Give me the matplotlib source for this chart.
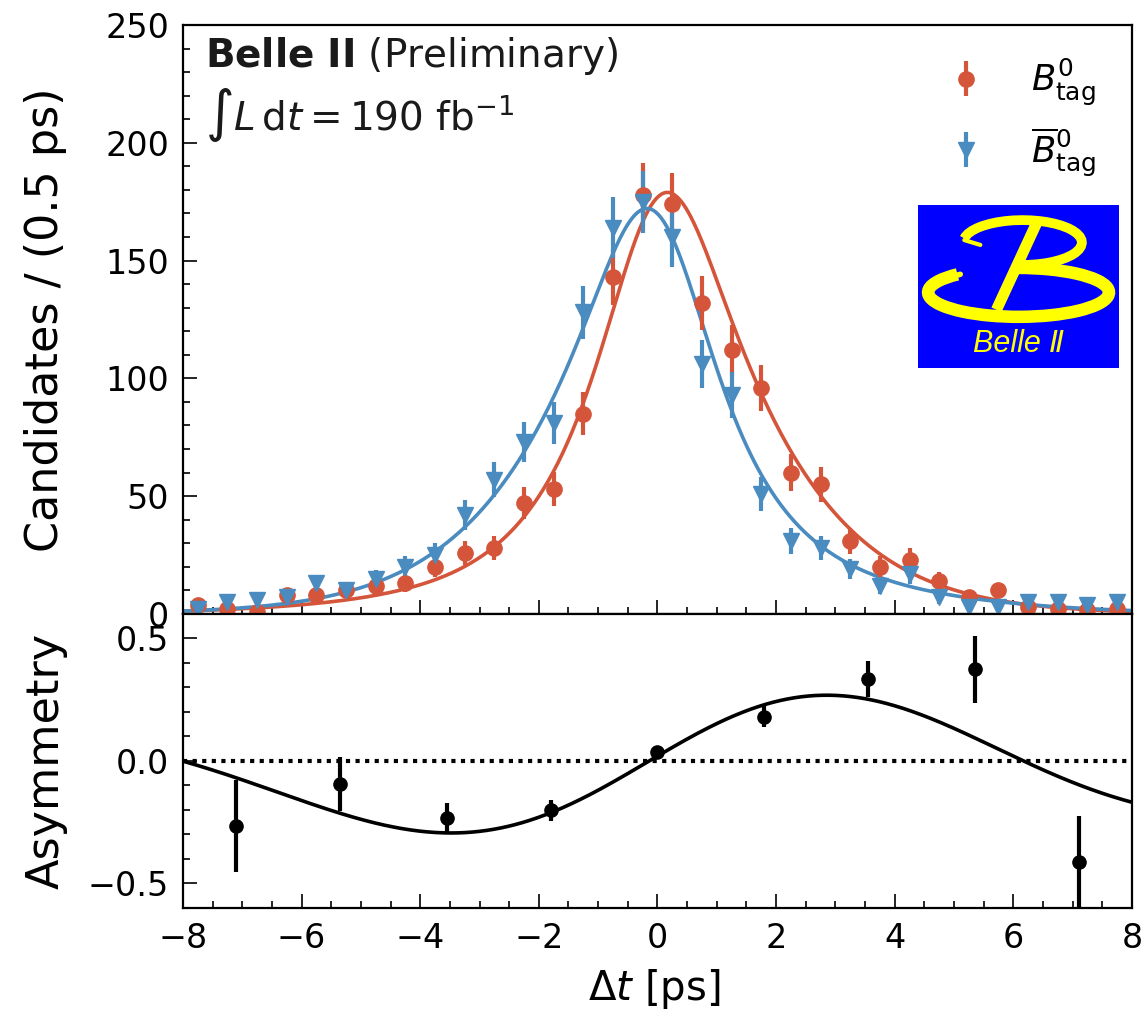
import math
import numpy as np
import matplotlib
matplotlib.use('Agg')
import matplotlib.pyplot as plt
from matplotlib.patches import Arc
from matplotlib.ticker import MultipleLocator

# binned delta-t distribution, 0.5 ps bins from -8 to 8 ps
dt_edges = np.linspace(-8, 8, 33)
b0_counts = [4, 2, 1, 8, 8, 10, 12, 13, 20, 26, 28, 47, 53, 85, 143, 178,
             174, 132, 112, 96, 60, 55, 31, 20, 23, 14, 7, 10, 3, 2, 1.5, 2]
b0bar_counts = [2, 5, 6, 7, 13, 10, 15, 20, 25, 42, 57, 73, 81, 128, 164, 175,
                160, 106, 93, 51, 31, 28, 19, 12, 17, 7, 3, 3, 5, 5, 4, 5]

# asymmetry in coarse bins
asym_dt = [-7.1, -5.35, -3.55, -1.8, 0.0, 1.8, 3.55, 5.35, 7.1]
asym_val = [-0.265, -0.094, -0.234, -0.202, 0.035, 0.180, 0.334, 0.374, -0.413]
asym_err = [0.187, 0.112, 0.063, 0.043, 0.02, 0.043, 0.073, 0.138, 0.19]

# fit model parameters
tau = 1.52      # ps
sigma = 0.55    # resolution, ps
amp0, amp1 = 0.28, -0.004
phase_coef = [0.5095, 0.0052, -0.00112]
t_shift = 0.14

red = '#d4553a'
blue = '#4a8bc0'


def decay_conv(t):
    # exp(-|t|/tau)/(2 tau) convolved with a gaussian of width sigma
    s = sigma / tau
    erfc = np.vectorize(math.erfc)
    a = np.exp(-t / tau) * erfc((s - t / sigma) / np.sqrt(2))
    b = np.exp(t / tau) * erfc((s + t / sigma) / np.sqrt(2))
    return np.exp(s ** 2 / 2) / (4 * tau) * (a + b)


def asym_model(t):
    u = t + t_shift
    phase = phase_coef[0] * u + phase_coef[1] * u ** 2 + phase_coef[2] * u ** 3
    return (amp0 + amp1 * t) * np.sin(phase)


centers = 0.5 * (dt_edges[1:] + dt_edges[:-1])
width = dt_edges[1] - dt_edges[0]
b0 = np.array(b0_counts)
b0bar = np.array(b0bar_counts)
n_total = b0.sum() + b0bar.sum()

tt = np.linspace(-8, 8, 801)
total = n_total * width * decay_conv(tt)
asym = asym_model(tt)

fig = plt.figure(figsize=(11.42, 10.16), dpi=100)
ax1 = fig.add_axes([0.1602, 0.3957, 0.831, 0.5797])
ax2 = fig.add_axes([0.1602, 0.1063, 0.831, 0.2894], sharex=ax1)

ax1.plot(tt, total * (1 + asym) / 2, color=red, lw=2.6, zorder=2)
ax1.plot(tt, total * (1 - asym) / 2, color=blue, lw=2.6, zorder=2)
ax1.errorbar(centers, b0, yerr=np.sqrt(b0), fmt='o', color=red, ms=11,
             elinewidth=3, capsize=0, label=r'$B^0_{\rm tag}$', zorder=3)
ax1.errorbar(centers, b0bar, yerr=np.sqrt(b0bar), fmt='v', color=blue, ms=11,
             elinewidth=3, capsize=0, label=r'$\overline{B}^0_{\rm tag}$', zorder=3)

ax1.set_xlim(-8, 8)
ax1.set_ylim(0, 250)
ax1.yaxis.set_major_locator(MultipleLocator(50))
ax1.yaxis.set_minor_locator(MultipleLocator(10))
ax1.xaxis.set_major_locator(MultipleLocator(2))
ax1.xaxis.set_minor_locator(MultipleLocator(0.5))
ax1.tick_params(labelbottom=False)
ax1.set_ylabel('Candidates / (0.5 ps)', fontsize=32)
ax1.yaxis.set_label_coords(-0.122, 0.5)

ax1.text(0.023, 0.929, r'$\bf{Belle\ II}$' + ' (Preliminary)', transform=ax1.transAxes,
         fontsize=28, va='baseline', ha='left', color='#1a1a1a')
ax1.text(0.023, 0.822, r'$\int L\,\mathrm{d}t = 190$ fb$^{-1}$', transform=ax1.transAxes,
         fontsize=28, va='baseline', ha='left', color='#1a1a1a')

leg = ax1.legend(loc='upper right', bbox_to_anchor=(0.996, 1.0), frameon=False,
                 fontsize=25.5, handletextpad=1.1, labelspacing=0.48, handlelength=1.5)

# Belle II logo
logo = fig.add_axes([0.8039, 0.6378, 0.176, 0.1604])
logo.set_facecolor('#0000ff')
logo.set_xlim(0, 1)
logo.set_ylim(0, 1)
logo.set_xticks([])
logo.set_yticks([])
for sp in logo.spines.values():
    sp.set_visible(False)
yellow = '#ffff00'
logo.add_patch(Arc((0.52, 0.77), 0.59, 0.275, theta1=-105, theta2=175, color=yellow, lw=7))
logo.add_patch(Arc((0.50, 0.464), 0.90, 0.30, theta1=160, theta2=450, color=yellow, lw=9))
logo.plot([0.59, 0.39], [0.89, 0.357], color=yellow, lw=8, solid_capstyle='butt')
logo.plot([0.23, 0.31], [0.785, 0.755], color=yellow, lw=3, solid_capstyle='round')
logo.plot([0.08, 0.21], [0.53, 0.575], color=yellow, lw=4, solid_capstyle='round')
logo.text(0.5, 0.147, 'Belle Ⅱ', family=['Liberation Sans', 'DejaVu Sans'], style='italic',
          color=yellow, fontsize=22, ha='center', va='center')

# asymmetry panel
ax2.plot(tt, asym, color='black', lw=2.6)
ax2.axhline(0, color='black', lw=3, linestyle=(0, (1, 1.3)))
ax2.errorbar(asym_dt, asym_val, yerr=asym_err, fmt='o', color='black', ms=9.5,
             elinewidth=3, capsize=0)
ax2.set_ylim(-0.6, 0.6)
ax2.set_yticks([-0.5, 0.0, 0.5])
ax2.yaxis.set_minor_locator(MultipleLocator(0.1))
ax2.set_ylabel('Asymmetry', fontsize=32)
ax2.yaxis.set_label_coords(-0.122, 0.5)
ax2.set_xlabel(r'$\Delta t$ [ps]', fontsize=29)
ax2.xaxis.set_label_coords(0.497, -0.2)

for ax in (ax1, ax2):
    ax.tick_params(which='both', direction='in', labelsize=24, pad=10, width=1.2)
    ax.tick_params(which='major', length=10)
    ax.tick_params(which='minor', length=5)
    for sp in ax.spines.values():
        sp.set_linewidth(1.6)

fig.savefig('out.png', dpi=100)
